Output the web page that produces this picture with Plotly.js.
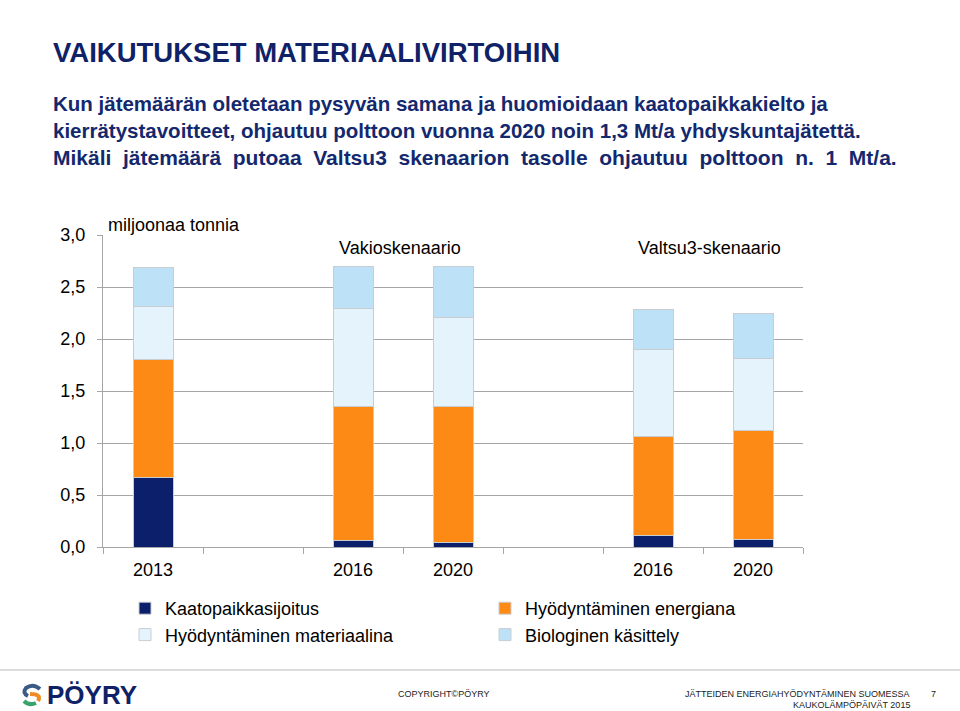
<!DOCTYPE html>
<html>
<head>
<meta charset="utf-8">
<script src="https://cdn.plot.ly/plotly-3.0.1.min.js"></script>
<style>
  html, body { margin: 0; padding: 0; background: #ffffff; }
  #chart { width: 960px; height: 711px; }
</style>
</head>
<body>
<div id="chart"></div>
<script>
// ---- data ----
var slotLabels = ["2013", "", "2016", "2020", "", "2016", "2020"];
var kaatopaikka = [0.665, null, 0.06, 0.04, null, 0.11, 0.075];
var energiana   = [1.14,  null, 1.29, 1.31, null, 0.95, 1.05];
var materiaalina = [0.51, null, 0.94, 0.86, null, 0.84, 0.685];
var biologinen  = [0.37,  null, 0.41, 0.49, null, 0.38, 0.44];
var seriesNames = ["Kaatopaikkasijoitus", "Hyödyntäminen energiana", "Hyödyntäminen materiaalina", "Biologinen käsittely"];
var yTickVals = [0, 0.5, 1, 1.5, 2, 2.5, 3];

var titleText = "VAIKUTUKSET MATERIAALIVIRTOIHIN";
var subtitleLines = [
  "Kun jätemäärän oletetaan pysyvän samana ja huomioidaan kaatopaikkakielto ja",
  "kierrätystavoitteet, ohjautuu polttoon vuonna 2020 noin 1,3 Mt/a yhdyskuntajätettä.",
  "Mikäli jätemäärä putoaa Valtsu3 skenaarion tasolle ohjautuu polttoon n. 1 Mt/a."
];
var unitLabel = "miljoonaa tonnia";
var scenarioLabels = ["Vakioskenaario", "Valtsu3-skenaario"];

// ---- geometry helpers (pixel -> paper) ----
var W = 960, H = 711;
var M = {l: 103, r: 157, t: 235, b: 164};
var PW = W - M.l - M.r, PH = H - M.t - M.b;
function px(x) { return (x - M.l) / PW; }
function py(y) { return (H - M.b - y) / PH; }

var xIdx = slotLabels.map(function (_, i) { return i; });
var tickVals = [], tickText = [];
slotLabels.forEach(function (l, i) { if (l !== "") { tickVals.push(i); tickText.push(l); } });

var colors = ["#0b1f6b", "#fd8a14", "#e4f3fc", "#bde1f6"];
var values = [kaatopaikka, energiana, materiaalina, biologinen];
var legendOf = ["legend", "legend2", "legend", "legend2"];

var traces = values.map(function (v, k) {
  return {
    type: "bar",
    x: xIdx,
    y: v,
    name: seriesNames[k],
    legend: legendOf[k],
    marker: {color: colors[k], line: {color: "#c9cdd2", width: 1}},
    hoverinfo: "skip"
  };
});

var fontFam = "Arial, 'Liberation Sans', sans-serif";
var navy = "#0f2167";

var annotations = [];
annotations.push({text: "<b>" + titleText + "</b>", xref: "paper", yref: "paper",
  x: px(51), y: py(52), xanchor: "left", yanchor: "middle", showarrow: false,
  font: {family: fontFam, size: 27.5, color: navy}});
var subSizes = [20.5, 20.5, 21];
var subY = [104, 130.5, 157];
subtitleLines.forEach(function (t, i) {
  var shown = (i === 2) ? t.split(" ").join("&nbsp; ") : t;
  annotations.push({text: "<b>" + shown + "</b>", xref: "paper", yref: "paper",
    x: px(51), y: py(subY[i]), xanchor: "left", yanchor: "middle", showarrow: false,
    font: {family: fontFam, size: subSizes[i], color: "#14286e"}});
});
annotations.push({text: unitLabel, xref: "paper", yref: "paper", x: px(106), y: py(225),
  xanchor: "left", yanchor: "middle", showarrow: false, font: {family: fontFam, size: 18, color: "#000"}});
annotations.push({text: scenarioLabels[0], xref: "paper", yref: "paper", x: px(400), y: py(248),
  xanchor: "center", yanchor: "middle", showarrow: false, font: {family: fontFam, size: 18, color: "#000"}});
annotations.push({text: scenarioLabels[1], xref: "paper", yref: "paper", x: px(709), y: py(248),
  xanchor: "center", yanchor: "middle", showarrow: false, font: {family: fontFam, size: 18, color: "#000"}});
// footer
annotations.push({text: "<b>PÖYRY</b>", xref: "paper", yref: "paper", x: px(45), y: py(695),
  xanchor: "left", yanchor: "middle", showarrow: false, font: {family: fontFam, size: 26, color: navy}});
annotations.push({text: "COPYRIGHT©PÖYRY", xref: "paper", yref: "paper", x: px(396), y: py(694),
  xanchor: "left", yanchor: "middle", showarrow: false, font: {family: fontFam, size: 9, color: "#222"}});
annotations.push({text: "JÄTTEIDEN ENERGIAHYÖDYNTÄMINEN SUOMESSA", xref: "paper", yref: "paper", x: px(912), y: py(694),
  xanchor: "right", yanchor: "middle", showarrow: false, font: {family: fontFam, size: 9, color: "#222"}});
annotations.push({text: "KAUKOLÄMPÖPÄIVÄT 2015", xref: "paper", yref: "paper", x: px(912), y: py(705),
  xanchor: "right", yanchor: "middle", showarrow: false, font: {family: fontFam, size: 9, color: "#222"}});
annotations.push({text: "7", xref: "paper", yref: "paper", x: px(933), y: py(694),
  xanchor: "center", yanchor: "middle", showarrow: false, font: {family: fontFam, size: 9, color: "#222"}});

function P(x, y) { return px(x) + "," + py(y); }
var shapes = [
  {type: "line", xref: "paper", yref: "paper", x0: px(0), x1: px(960), y0: py(670), y1: py(670),
   line: {color: "#dcdcdc", width: 2}},
  // logo symbol
  {type: "path", xref: "paper", yref: "paper", path: "M" + P(40, 689) + " Q" + P(33, 683) + " " + P(26, 688) + " Q" + P(22, 693) + " " + P(28, 696),
   line: {color: "#3b5b86", width: 4}},
  {type: "path", xref: "paper", yref: "paper", path: "M" + P(30, 694) + " Q" + P(42, 694) + " " + P(38, 701),
   line: {color: "#f08a24", width: 4}},
  {type: "path", xref: "paper", yref: "paper", path: "M" + P(36, 703) + " Q" + P(29, 706) + " " + P(24, 701),
   line: {color: "#3aa36b", width: 4}}
];

var layout = {
  width: W, height: H,
  margin: M,
  paper_bgcolor: "#ffffff", plot_bgcolor: "#ffffff",
  separators: ", ",
  barmode: "stack",
  bargap: 0.6,
  font: {family: fontFam, size: 18, color: "#000"},
  showlegend: true,
  xaxis: {
    range: [-0.5, 6.5], tickmode: "array", tickvals: tickVals, ticktext: tickText,
    ticks: "", showgrid: false, zeroline: false, showline: true, linecolor: "#a6a6a6", linewidth: 1,
    tickfont: {size: 18, color: "#000"}, ticklabelstandoff: 6, fixedrange: true,
    minor: {tickmode: "linear", tick0: -0.5, dtick: 1, ticks: "outside", ticklen: 6, tickcolor: "#a6a6a6", showgrid: false}
  },
  yaxis: {
    range: [0, 3], tickmode: "array", tickvals: yTickVals, tickformat: ".1f",
    ticks: "outside", ticklen: 5, tickcolor: "#a6a6a6",
    showgrid: true, gridcolor: "#a6a6a6", gridwidth: 1,
    zeroline: false, showline: true, linecolor: "#a6a6a6", linewidth: 1,
    tickfont: {size: 18, color: "#000"}, ticklabelstandoff: 8, fixedrange: true
  },
  legend: {orientation: "v", x: px(125), y: py(590), xanchor: "left", yanchor: "top",
    traceorder: "normal", font: {size: 18, color: "#000"}, bgcolor: "rgba(0,0,0,0)", itemclick: false},
  legend2: {orientation: "v", x: px(485), y: py(590), xanchor: "left", yanchor: "top",
    traceorder: "normal", font: {size: 18, color: "#000"}, bgcolor: "rgba(0,0,0,0)", itemclick: false},
  annotations: annotations,
  shapes: shapes
};

Plotly.newPlot("chart", traces, layout, {displayModeBar: false, staticPlot: true});
</script>
</body>
</html>
